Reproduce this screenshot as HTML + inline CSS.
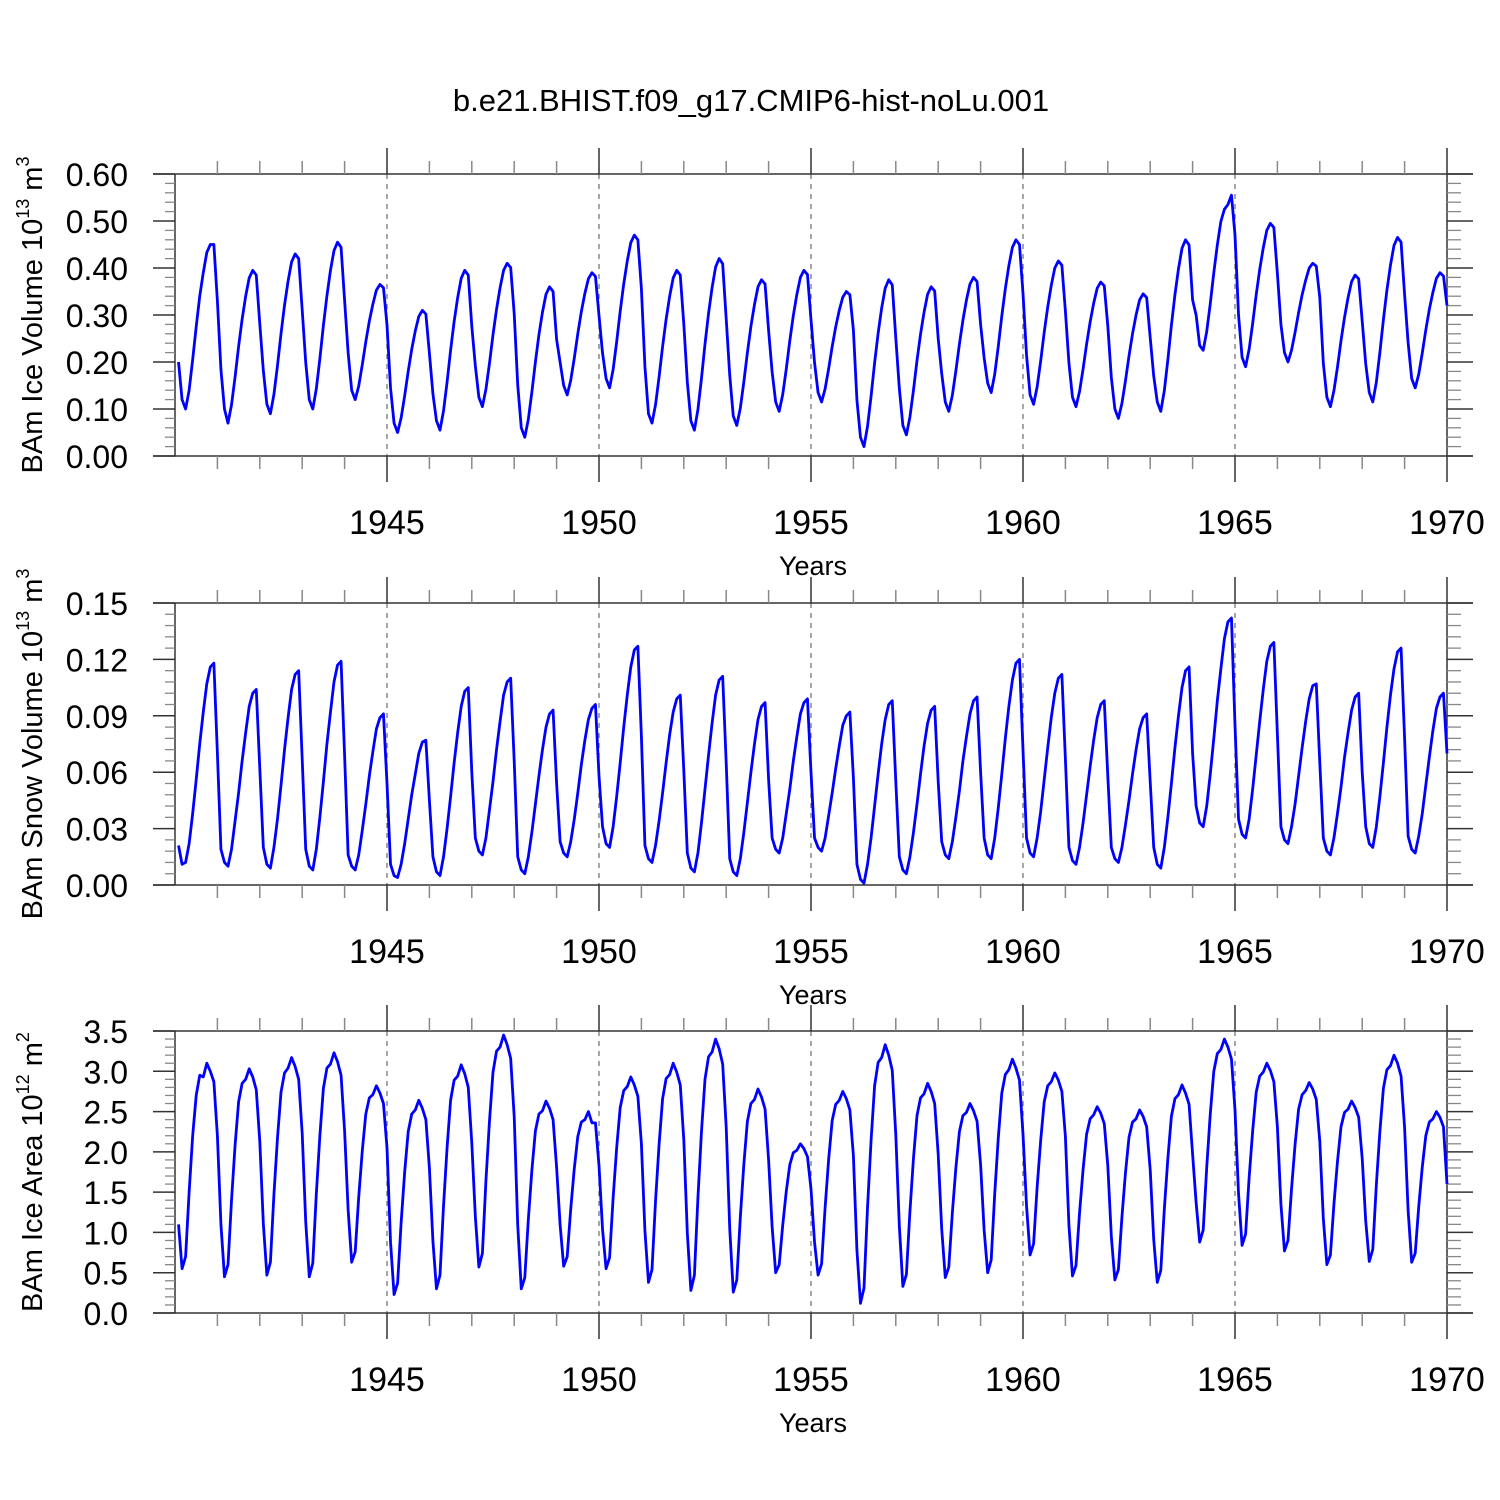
<!DOCTYPE html>
<html><head><meta charset="utf-8"><style>
html,body{margin:0;padding:0;background:#fff;}
svg{display:block;font-family:"Liberation Sans",Arial,sans-serif;}
</style></head><body>
<svg id="chart" width="1500" height="1500" xmlns="http://www.w3.org/2000/svg">
<rect width="1500" height="1500" fill="#fff"/>
<text x="751" y="111" font-size="31" text-anchor="middle">b.e21.BHIST.f09_g17.CMIP6-hist-noLu.001</text>
</svg>
<script>
const yearTicks = [1945, 1950, 1955, 1960, 1965, 1970];
const iceVolume = [
.20,.12,.10,.14,.205,.275,.34,.39,.433,.45,.45,.33,
.184,.10,.07,.109,.168,.233,.291,.34,.379,.395,.385,.281,
.182,.11,.09,.131,.192,.26,.321,.372,.413,.43,.42,.311,
.199,.12,.10,.143,.207,.278,.341,.395,.437,.455,.444,.331,
.22,.14,.12,.149,.194,.243,.287,.323,.353,.365,.358,.279,
.145,.07,.05,.081,.128,.18,.227,.266,.297,.31,.302,.219,
.132,.075,.055,.096,.157,.225,.286,.337,.378,.395,.385,.276,
.192,.125,.105,.142,.197,.258,.312,.358,.395,.41,.401,.303,
.151,.06,.04,.078,.136,.20,.258,.306,.344,.36,.35,.248,
.199,.15,.13,.161,.208,.26,.307,.346,.377,.39,.382,.299,
.219,.165,.145,.184,.243,.308,.366,.415,.454,.47,.46,.356,
.19,.09,.07,.109,.168,.233,.291,.34,.379,.395,.385,.281,
.157,.075,.055,.099,.165,.238,.303,.358,.402,.42,.409,.292,
.172,.085,.065,.102,.158,.22,.276,.322,.36,.375,.366,.267,
.179,.115,.095,.131,.185,.245,.299,.344,.38,.395,.386,.29,
.199,.135,.115,.143,.186,.233,.275,.31,.338,.35,.343,.268,
.119,.04,.02,.063,.127,.198,.261,.315,.357,.375,.364,.251,
.144,.065,.045,.083,.14,.203,.259,.306,.344,.36,.351,.25,
.175,.115,.095,.129,.181,.238,.289,.332,.366,.38,.371,.28,
.209,.155,.135,.174,.233,.298,.356,.405,.444,.46,.45,.346,
.215,.13,.11,.147,.202,.263,.317,.363,.40,.415,.406,.308,
.198,.125,.105,.137,.185,.238,.285,.325,.357,.37,.362,.277,
.167,.10,.08,.112,.16,.213,.26,.30,.332,.345,.337,.252,
.17,.115,.095,.139,.205,.278,.343,.398,.442,.46,.449,.332,
.30,.235,.225,.265,.324,.39,.449,.499,.525,.535,.555,.47,
.30,.21,.19,.227,.282,.343,.397,.443,.48,.495,.486,.388,
.28,.22,.20,.225,.263,.305,.343,.374,.40,.41,.404,.337,
.197,.125,.105,.139,.189,.245,.295,.337,.371,.385,.377,.287,
.196,.135,.115,.157,.22,.29,.353,.406,.448,.465,.455,.343,
.241,.165,.145,.174,.219,.268,.312,.348,.378,.39,.383,.32];
const snowVolume = [
.021,.011,.012,.022,.038,.056,.075,.092,.107,.116,.118,.07,
.019,.012,.010,.019,.034,.049,.066,.081,.095,.102,.104,.062,
.02,.011,.009,.02,.035,.053,.072,.089,.104,.112,.114,.067,
.019,.01,.008,.019,.036,.055,.075,.092,.108,.117,.119,.069,
.016,.01,.008,.016,.029,.043,.058,.071,.083,.089,.091,.054,
.011,.005,.004,.011,.022,.035,.048,.059,.07,.076,.077,.045,
.015,.007,.005,.015,.03,.047,.065,.081,.095,.103,.105,.06,
.025,.018,.016,.025,.04,.055,.072,.087,.101,.108,.110,.066,
.015,.008,.006,.015,.028,.043,.058,.072,.084,.091,.093,.054,
.023,.017,.015,.023,.035,.049,.064,.077,.088,.094,.096,.058,
.031,.022,.020,.031,.047,.065,.084,.101,.116,.125,.127,.079,
.021,.014,.012,.021,.034,.049,.065,.08,.092,.099,.101,.061,
.017,.009,.007,.017,.033,.051,.069,.086,.101,.109,.111,.065,
.014,.007,.005,.014,.028,.044,.06,.075,.088,.095,.097,.056,
.025,.019,.017,.025,.038,.051,.066,.079,.091,.097,.099,.06,
.025,.02,.018,.025,.037,.049,.062,.074,.085,.09,.092,.057,
.011,.003,.001,.011,.025,.042,.059,.075,.088,.096,.098,.055,
.015,.008,.006,.015,.028,.043,.059,.074,.086,.093,.095,.055,
.023,.016,.014,.023,.036,.05,.066,.079,.091,.098,.10,.06,
.025,.016,.014,.025,.041,.059,.078,.095,.109,.118,.12,.072,
.025,.017,.015,.025,.039,.056,.073,.089,.102,.11,.112,.067,
.02,.013,.011,.02,.033,.048,.063,.077,.089,.096,.098,.058,
.02,.014,.012,.02,.032,.045,.059,.072,.083,.089,.091,.055,
.02,.011,.009,.02,.036,.054,.073,.09,.105,.114,.116,.07,
.042,.033,.031,.042,.059,.078,.098,.115,.131,.14,.142,.085,
.035,.027,.025,.035,.051,.069,.087,.104,.119,.127,.129,.08,
.031,.024,.022,.031,.043,.058,.073,.087,.099,.106,.107,.065,
.025,.018,.016,.025,.038,.052,.068,.081,.093,.10,.102,.06,
.031,.022,.020,.031,.047,.065,.084,.101,.115,.124,.126,.078,
.026,.019,.017,.026,.038,.053,.068,.082,.094,.10,.102,.07];
const iceArea = [
1.1,.55,.70,1.5,2.2,2.7,2.95,2.93,3.1,3.0,2.87,2.2,
1.1,.45,.60,1.4,2.08,2.62,2.85,2.9,3.03,2.93,2.77,2.13,
1.11,.47,.63,1.47,2.17,2.74,2.98,3.04,3.17,3.06,2.9,2.23,
1.13,.45,.62,1.48,2.2,2.79,3.04,3.09,3.23,3.12,2.95,2.26,
1.28,.63,.76,1.44,2.01,2.47,2.67,2.71,2.82,2.73,2.6,2.05,
.88,.23,.37,1.12,1.75,2.25,2.47,2.52,2.64,2.54,2.4,1.8,
.89,.30,.47,1.33,2.05,2.64,2.89,2.94,3.08,2.97,2.8,2.11,
1.2,.57,.74,1.64,2.38,2.99,3.25,3.3,3.45,3.33,3.16,2.44,
1.09,.30,.44,1.16,1.77,2.26,2.47,2.51,2.63,2.54,2.4,1.81,
1.09,.58,.70,1.29,1.79,2.19,2.37,2.4,2.5,2.36,2.36,1.83,
1.04,.55,.69,1.43,2.05,2.55,2.76,2.81,2.93,2.83,2.69,2.1,
1.02,.38,.54,1.39,2.09,2.66,2.91,2.96,3.1,2.99,2.83,2.15,
.99,.28,.47,1.43,2.25,2.9,3.18,3.24,3.4,3.28,3.09,2.31,
1.05,.26,.41,1.19,1.85,2.38,2.6,2.65,2.78,2.68,2.53,1.9,
1.07,.50,.60,1.09,1.51,1.84,1.99,2.02,2.1,2.04,1.94,1.54,
.88,.47,.61,1.31,1.91,2.39,2.59,2.64,2.75,2.66,2.52,1.95,
.78,.12,.31,1.31,2.14,2.82,3.11,3.17,3.33,3.2,3.01,2.21,
1.08,.33,.48,1.26,1.92,2.45,2.67,2.72,2.85,2.75,2.6,1.97,
1.04,.44,.57,1.24,1.8,2.25,2.45,2.49,2.6,2.51,2.38,1.84,
1.03,.5,.66,1.48,2.17,2.73,2.96,3.02,3.15,3.04,2.89,2.22,
1.33,.72,.86,1.56,2.14,2.62,2.82,2.87,2.98,2.89,2.75,2.19,
1.09,.46,.59,1.24,1.78,2.22,2.41,2.46,2.56,2.48,2.35,1.83,
.95,.41,.54,1.19,1.74,2.18,2.37,2.41,2.52,2.44,2.31,1.78,
.91,.38,.53,1.29,1.92,2.44,2.66,2.71,2.83,2.73,2.59,1.97,
1.37,.88,1.03,1.81,2.47,3.0,3.22,3.27,3.4,3.3,3.15,2.52,
1.48,.84,.98,1.68,2.26,2.74,2.94,2.99,3.1,3.01,2.87,2.31,
1.35,.77,.9,1.54,2.09,2.53,2.71,2.76,2.86,2.78,2.65,2.13,
1.17,.6,.72,1.35,1.88,2.31,2.49,2.53,2.63,2.55,2.43,1.92,
1.14,.64,.79,1.59,2.25,2.79,3.02,3.07,3.2,3.1,2.94,2.3,
1.27,.63,.74,1.32,1.81,2.2,2.37,2.41,2.5,2.43,2.31,1.6];
const volTicks = ["0.00","0.10","0.20","0.30","0.40","0.50","0.60"];
const snowTicks = ["0.00","0.03","0.06","0.09","0.12","0.15"];
const areaTicks = ["0.0","0.5","1.0","1.5","2.0","2.5","3.0","3.5"];

const NS = "http://www.w3.org/2000/svg";
const svg = document.getElementById('chart');
const X0 = 175, X1 = 1447;
function xs(year){ return X0 + (year - 1940) / 30 * (X1 - X0); }
function mk(tag, attrs, parent){ const e = document.createElementNS(NS, tag); for (const k in attrs) e.setAttribute(k, attrs[k]); (parent||svg).appendChild(e); return e; }

function panel(key, top, values, ticks, minorPer, titleMain, expo, unitPow){
  const bot = top + 282;
  const vmax = parseFloat(ticks[ticks.length-1]);
  const ys = v => bot - v / vmax * (bot - top);
  const g = mk('g', {});
  
  
  yearTicks.slice(0, -1).forEach(yr => {
    const l = mk('line', {x1: xs(yr), x2: xs(yr), y1: top, y2: bot, stroke: '#777', 'stroke-width': 1.3, 'stroke-dasharray': '5,5'}, g);
    
    
  });
  const frame = [[153, top, 1473, top], [153, bot, 1473, bot], [X0, top, X0, bot], [X1, top, X1, bot]];
  frame.forEach(f => mk('line', {x1: f[0], y1: f[1], x2: f[2], y2: f[3], stroke: '#333', 'stroke-width': 1.5}, g));
  for (let yr = 1941; yr <= 1970; yr++) {
    const major = yearTicks.includes(yr);
    const x = xs(yr), len = major ? 26 : 13;
    mk('line', {x1: x, x2: x, y1: top, y2: top - len, stroke: major ? '#333' : '#888', 'stroke-width': 1.5}, g);
    mk('line', {x1: x, x2: x, y1: bot, y2: bot + len, stroke: major ? '#333' : '#888', 'stroke-width': 1.5}, g);
  }
  yearTicks.forEach(yr => {
    const t = mk('text', {x: xs(yr), y: bot + 78, 'font-size': 34, 'text-anchor': 'middle'}, g);
    
    
    t.textContent = yr;
  });
  const xt = mk('text', {x: 813, y: bot + 119, 'font-size': 27, 'text-anchor': 'middle'}, g);
  
  
  xt.textContent = 'Years';
  const step = vmax / (ticks.length - 1);
  ticks.forEach((lab, i) => {
    const v = parseFloat(lab), y = ys(v);
    mk('line', {x1: 153, x2: X0, y1: y, y2: y, stroke: '#333', 'stroke-width': 1.5}, g);
    mk('line', {x1: X1, x2: 1473, y1: y, y2: y, stroke: '#333', 'stroke-width': 1.5}, g);
    const t = mk('text', {x: 128, y: y + 12, 'font-size': 32, 'text-anchor': 'end'}, g);
    
    
    t.textContent = lab;
    if (i < ticks.length - 1) {
      for (let m = 1; m < minorPer; m++) {
        const ym = ys(v + step * m / minorPer);
        mk('line', {x1: 165, x2: X0, y1: ym, y2: ym, stroke: '#888', 'stroke-width': 1.3}, g);
        mk('line', {x1: X1, x2: 1461, y1: ym, y2: ym, stroke: '#888', 'stroke-width': 1.3}, g);
      }
    }
  });
  const cy = (top + bot) / 2;
  const yt = mk('text', {x: 0, y: 0, 'font-size': 29, 'text-anchor': 'middle', transform: `translate(42,${cy}) rotate(-90)`}, g);
  
  
  yt.innerHTML = `${titleMain} 10<tspan font-size="18" dy="-13">${expo}</tspan><tspan dy="13"> m</tspan><tspan font-size="18" dy="-13">${unitPow}</tspan>`;
  const pts = values.map((v, i) => xs(1940 + (i + 1) / 12).toFixed(2) + ',' + ys(v).toFixed(2)).join(' ');
  const pl = mk('polyline', {points: pts, fill: 'none', stroke: '#0000ff', 'stroke-width': 2.8, 'stroke-linejoin': 'round'}, g);
  
  
}
panel('ice-volume', 174, iceVolume, volTicks, 5, 'BAm Ice Volume', '13', '3');
panel('snow-volume', 603, snowVolume, snowTicks, 5, 'BAm Snow Volume', '13', '3');
panel('ice-area', 1031, iceArea, areaTicks, 5, 'BAm Ice Area', '12', '2');
</script>
</body></html>
